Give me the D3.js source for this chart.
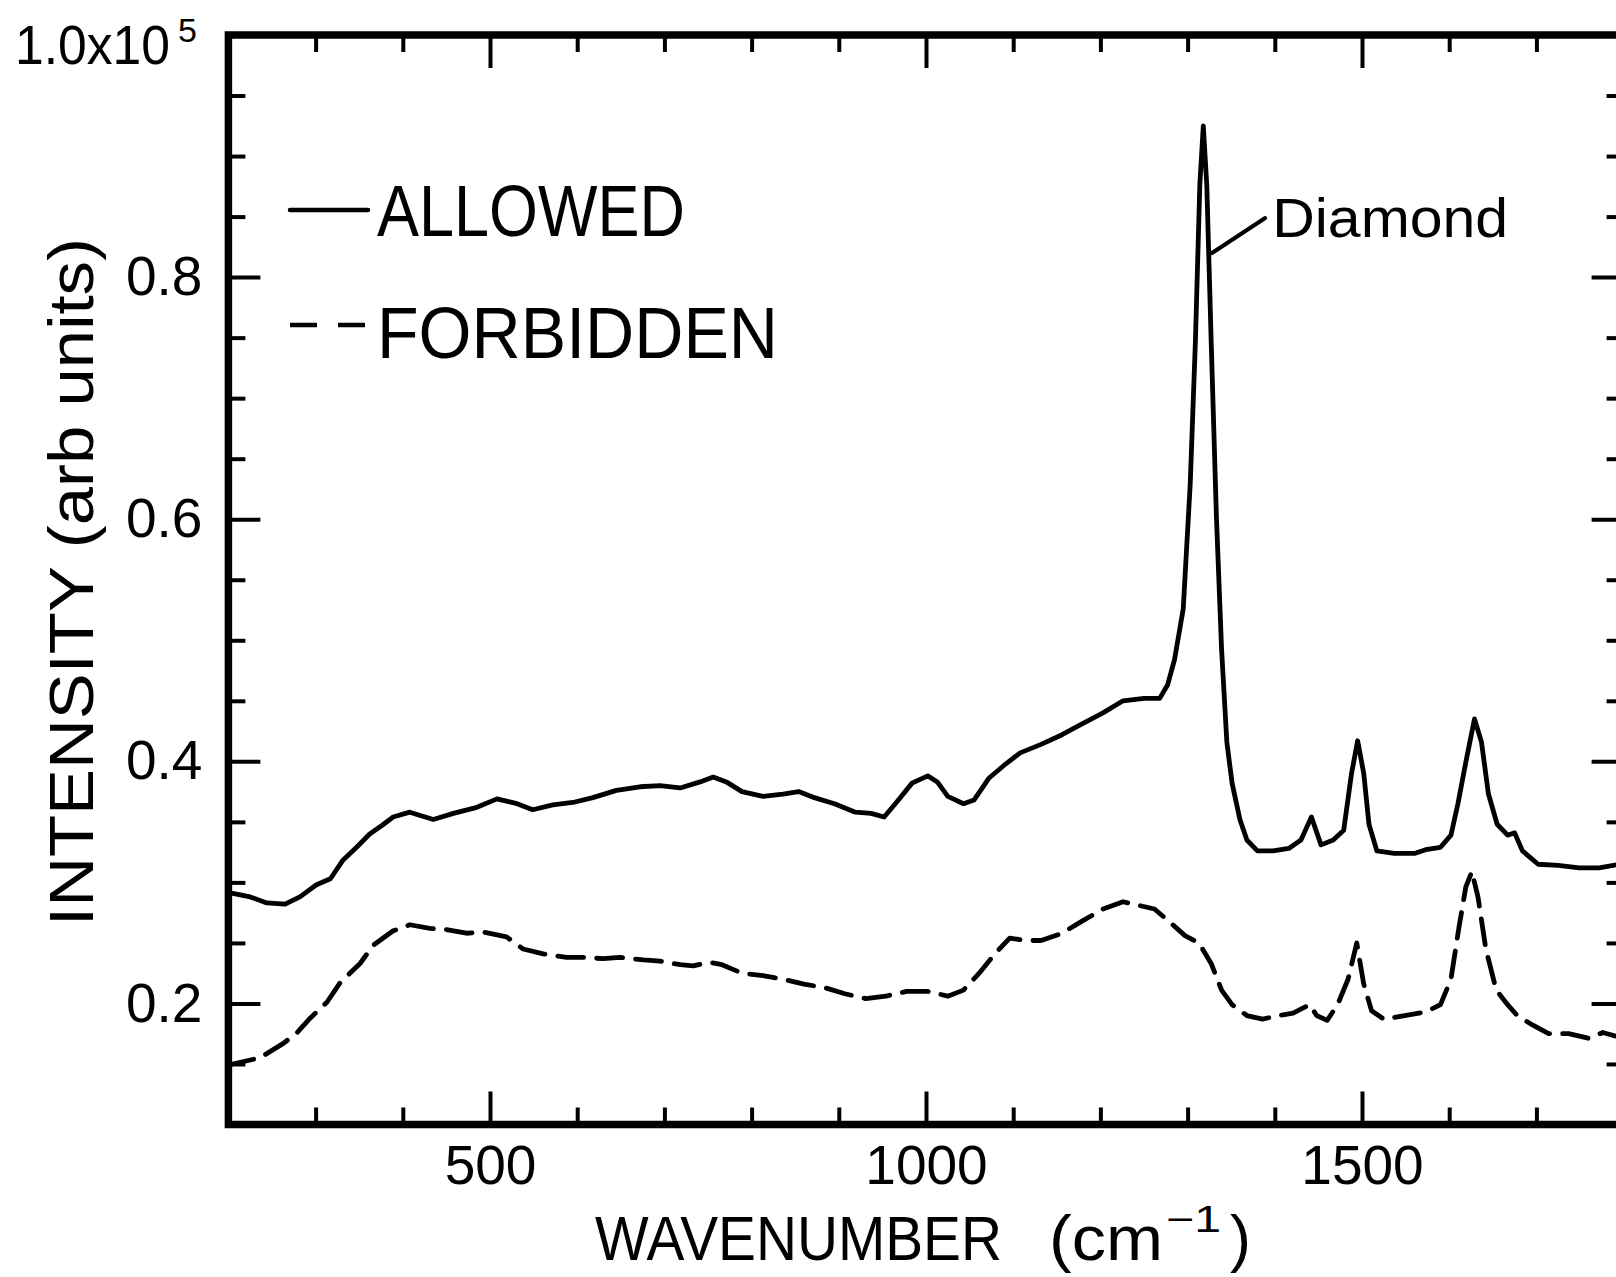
<!DOCTYPE html>
<html><head><meta charset="utf-8">
<script src="https://cdn.jsdelivr.net/npm/d3@7"></script>
<style>
body{margin:0;background:#fff}
svg{display:block;background:#fff}
text{font-family:"Liberation Sans",Arial,sans-serif;fill:#000}
</style>
</head><body>
<svg id="chart" width="1616" height="1277"></svg>
<script>
// ---- data (wavenumber cm^-1, intensity x1e5 arb units) ----
const allowedSeries = [
[200,0.291],[205,0.291],[225,0.288],[244,0.283],[265,0.282],[282,0.288],[301,0.298],[317,0.303],
[331,0.318],[347,0.329],[362,0.340],[376,0.347],[389,0.354],[408,0.358],[435,0.352],[458,0.357],
[485,0.362],[508,0.369],[531,0.365],[549,0.360],[572,0.364],[595,0.366],[618,0.370],[645,0.376],
[672,0.379],[695,0.380],[718,0.378],[741,0.383],[756,0.387],[771,0.383],[789,0.375],[813,0.371],
[836,0.373],[854,0.375],[872,0.370],[895,0.365],[919,0.358],[937,0.357],[952,0.354],[966,0.366],
[984,0.382],[1002,0.388],[1013,0.383],[1025,0.371],[1043,0.365],[1055,0.368],[1072,0.386],[1090,0.397],
[1108,0.407],[1132,0.414],[1156,0.422],[1179,0.431],[1203,0.440],[1226,0.450],[1250,0.452],[1268,0.452],
[1277,0.463],[1285,0.484],[1295,0.526],[1303,0.629],[1309,0.748],[1314,0.876],[1318,0.925],[1322,0.876],
[1327,0.748],[1333,0.603],[1339,0.492],[1345,0.416],[1351,0.382],[1360,0.352],[1368,0.335],[1380,0.326],
[1398,0.326],[1416,0.328],[1430,0.335],[1442,0.354],[1453,0.331],[1467,0.335],[1479,0.343],[1488,0.390],
[1495,0.417],[1502,0.390],[1508,0.348],[1517,0.326],[1537,0.324],[1561,0.324],[1573,0.327],[1590,0.329],
[1602,0.339],[1610,0.365],[1619,0.399],[1629,0.435],[1637,0.416],[1645,0.373],[1655,0.348],[1667,0.339],
[1675,0.341],[1684,0.326],[1702,0.315],[1725,0.314],[1749,0.312],[1772,0.312],[1795,0.315],[1805,0.314]
];
const forbiddenSeries = [
[200,0.149],[205,0.150],[236,0.155],[263,0.167],[279,0.176],[294,0.188],[313,0.201],[328,0.217],
[351,0.233],[366,0.248],[389,0.260],[408,0.265],[431,0.262],[450,0.261],[473,0.258],[492,0.259],
[519,0.255],[538,0.245],[561,0.241],[588,0.238],[607,0.238],[630,0.237],[649,0.238],[676,0.236],
[695,0.235],[718,0.232],[733,0.231],[752,0.234],[766,0.232],[789,0.225],[813,0.223],[836,0.220],
[860,0.216],[884,0.213],[907,0.208],[931,0.204],[954,0.206],[978,0.210],[1002,0.210],[1025,0.206],
[1043,0.211],[1061,0.225],[1079,0.241],[1096,0.254],[1114,0.252],[1132,0.252],[1156,0.258],[1179,0.268],
[1203,0.278],[1226,0.284],[1244,0.281],[1262,0.278],[1280,0.267],[1297,0.256],[1313,0.250],[1327,0.233],
[1339,0.211],[1351,0.199],[1368,0.190],[1386,0.187],[1404,0.190],[1421,0.192],[1440,0.199],[1448,0.190],
[1460,0.186],[1472,0.199],[1484,0.220],[1494,0.250],[1502,0.216],[1511,0.194],[1525,0.187],[1549,0.190],
[1573,0.193],[1590,0.199],[1602,0.220],[1611,0.262],[1619,0.296],[1626,0.309],[1633,0.288],[1642,0.245],
[1654,0.211],[1667,0.199],[1678,0.190],[1696,0.182],[1714,0.175],[1737,0.175],[1761,0.171],[1776,0.176],
[1791,0.173],[1805,0.173]
];
const xMajorTicks = [500, 1000, 1500];
const xMinorTicks = [300, 400, 600, 700, 800, 900, 1100, 1200, 1300, 1400, 1600, 1700];
const yMajorTicks = [0.2, 0.4, 0.6, 0.8];
const yMinorTicks = [0.15, 0.25, 0.3, 0.35, 0.45, 0.5, 0.55, 0.65, 0.7, 0.75, 0.85, 0.9, 0.95];
const legendLabels = ["ALLOWED", "FORBIDDEN"];
const annotation = {label: "Diamond", from: [1328, 0.8199], to: [1389, 0.8488], text: [1397, 0.8331]};

// ---- layout ----
const svg = d3.select("#chart");
const x = d3.scaleLinear().domain([200, 1800]).range([228.4, 1623.6]);
const y = d3.scaleLinear().domain([0.1, 1.0]).range([1124.5, 35]);

svg.append("defs").append("clipPath").attr("id", "plotclip")
  .append("rect").attr("x", x(200)).attr("y", y(1.0))
  .attr("width", x(1800) - x(200)).attr("height", y(0.1) - y(1.0));

const line = d3.line().x(d => x(d[0])).y(d => y(d[1]));
const plot = svg.append("g").attr("clip-path", "url(#plotclip)");
plot.append("path").datum(allowedSeries).attr("d", line)
  .attr("fill", "none").attr("stroke", "#000").attr("stroke-width", 4.8)
  .attr("stroke-linejoin", "round").attr("stroke-linecap", "round");
plot.append("path").datum(forbiddenSeries).attr("d", line)
  .attr("fill", "none").attr("stroke", "#000").attr("stroke-width", 4.8)
  .attr("stroke-dasharray", "26,13").attr("stroke-linejoin", "round").attr("stroke-linecap", "round");

function styleAxis(g) {
  g.select(".domain").remove();
  g.attr("font-family", null).attr("font-size", null);
  g.selectAll(".tick line").attr("stroke", "#000").attr("stroke-width", 4);
  g.selectAll(".tick text").attr("fill", "#000").style("font-size", "55px");
}
const fmtX = d3.format("d");
const fmtY = d3.format(".1f");
// bottom
svg.append("g").attr("transform", `translate(0,${y(0.1)})`)
  .call(d3.axisBottom(x).tickValues(xMajorTicks).tickSize(-33).tickPadding(20).tickFormat(fmtX)).call(styleAxis);
svg.append("g").attr("transform", `translate(0,${y(0.1)})`)
  .call(d3.axisBottom(x).tickValues(xMinorTicks).tickSize(-17).tickFormat("")).call(styleAxis);
// top
svg.append("g").attr("transform", `translate(0,${y(1.0)})`)
  .call(d3.axisTop(x).tickValues(xMajorTicks).tickSize(-33).tickFormat("")).call(styleAxis);
svg.append("g").attr("transform", `translate(0,${y(1.0)})`)
  .call(d3.axisTop(x).tickValues(xMinorTicks).tickSize(-17).tickFormat("")).call(styleAxis);
// left
svg.append("g").attr("transform", `translate(${x(200)},0)`)
  .call(d3.axisLeft(y).tickValues(yMajorTicks).tickSize(-32).tickPadding(26).tickFormat(fmtY)).call(styleAxis);
svg.append("g").attr("transform", `translate(${x(200)},0)`)
  .call(d3.axisLeft(y).tickValues(yMinorTicks).tickSize(-17).tickFormat("")).call(styleAxis);
// right
svg.append("g").attr("transform", `translate(${x(1800)},0)`)
  .call(d3.axisRight(y).tickValues(yMajorTicks).tickSize(-32).tickFormat("")).call(styleAxis);
svg.append("g").attr("transform", `translate(${x(1800)},0)`)
  .call(d3.axisRight(y).tickValues(yMinorTicks).tickSize(-17).tickFormat("")).call(styleAxis);

// top-left label 1.0x10^5
svg.append("text").attr("x", 15).attr("y", 64)
  .style("font-size", "55px").attr("textLength", 155).attr("lengthAdjust", "spacingAndGlyphs").text("1.0x10");
svg.append("text").attr("x", 178).attr("y", 42).style("font-size", "34px").text("5");

// frame
svg.append("rect").attr("x", x(200)).attr("y", y(1.0))
  .attr("width", x(1800) - x(200)).attr("height", y(0.1) - y(1.0))
  .attr("fill", "none").attr("stroke", "#000").attr("stroke-width", 7.5);

// axis titles
svg.append("text").attr("transform", "translate(93,582) rotate(-90)")
  .attr("text-anchor", "middle").style("font-size", "63px")
  .attr("textLength", 688).attr("lengthAdjust", "spacingAndGlyphs")
  .text("INTENSITY  (arb units)");
svg.append("text").attr("x", 595).attr("y", 1260).style("font-size", "63px")
  .attr("textLength", 407).attr("lengthAdjust", "spacingAndGlyphs").text("WAVENUMBER");
svg.append("text").attr("x", 1049).attr("y", 1260).style("font-size", "63px")
  .attr("textLength", 114).attr("lengthAdjust", "spacingAndGlyphs").text("(cm");
svg.append("text").attr("x", 1166).attr("y", 1232).style("font-size", "37px")
  .attr("textLength", 55).attr("lengthAdjust", "spacingAndGlyphs").text("\u22121");
svg.append("text").attr("x", 1230).attr("y", 1260).style("font-size", "63px").text(")");

// legend
svg.append("line").attr("x1", 290).attr("x2", 368).attr("y1", 210).attr("y2", 210)
  .attr("stroke", "#000").attr("stroke-width", 4.5).attr("stroke-linecap", "round");
svg.append("text").attr("x", 377).attr("y", 236).style("font-size", "73px")
  .attr("textLength", 308).attr("lengthAdjust", "spacingAndGlyphs").text(legendLabels[0]);
svg.append("line").attr("x1", 290).attr("x2", 367).attr("y1", 325).attr("y2", 325)
  .attr("stroke", "#000").attr("stroke-width", 4.5).attr("stroke-dasharray", "27,21");
svg.append("text").attr("x", 377).attr("y", 358).style("font-size", "72px")
  .attr("textLength", 401).attr("lengthAdjust", "spacingAndGlyphs").text(legendLabels[1]);

// annotation
svg.append("line")
  .attr("x1", x(annotation.from[0])).attr("y1", y(annotation.from[1]))
  .attr("x2", x(annotation.to[0])).attr("y2", y(annotation.to[1]))
  .attr("stroke", "#000").attr("stroke-width", 4).attr("stroke-linecap", "round");
svg.append("text").attr("x", x(annotation.text[0])).attr("y", y(annotation.text[1]))
  .style("font-size", "56px").attr("textLength", 236).attr("lengthAdjust", "spacingAndGlyphs")
  .text(annotation.label);
</script>
</body></html>
